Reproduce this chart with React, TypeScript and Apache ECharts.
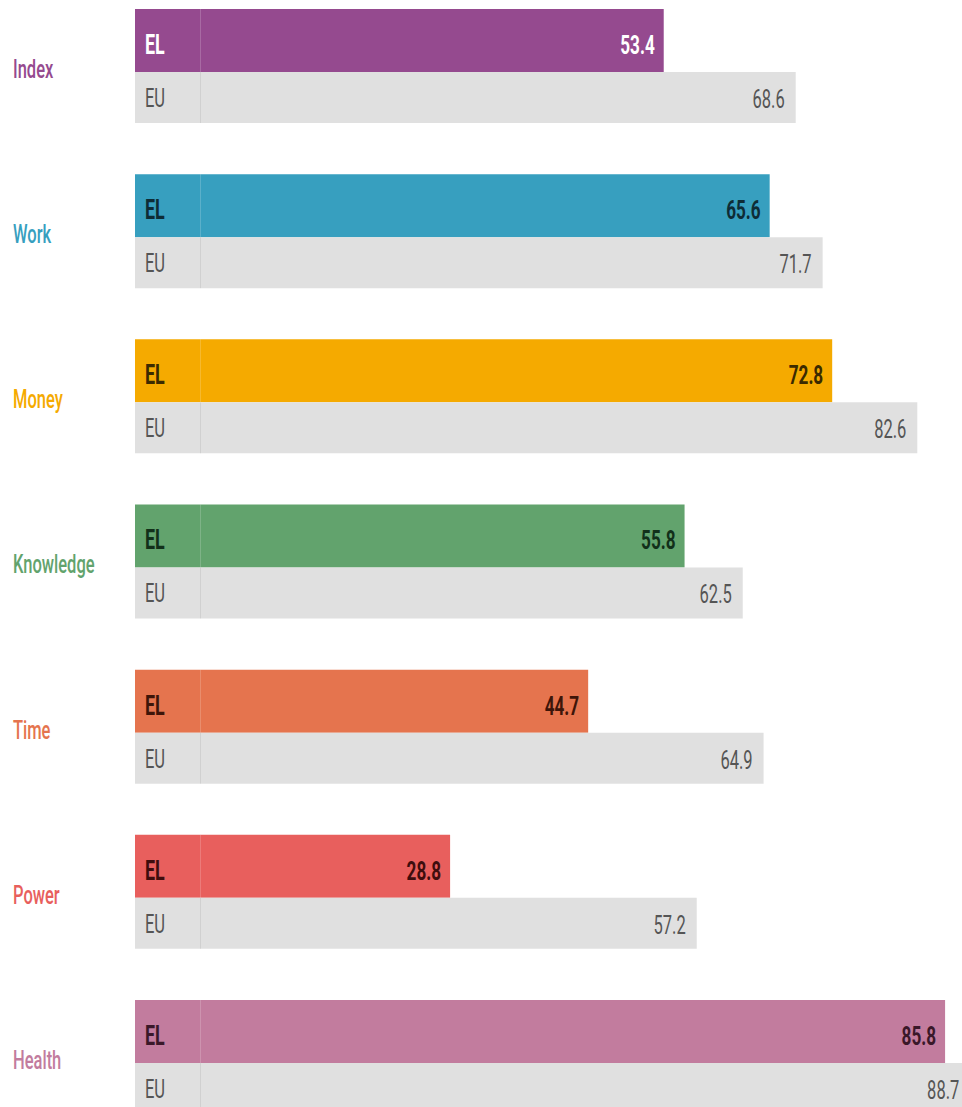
import React, { useEffect, useRef } from "react";
import * as echarts from "echarts";

const categories = ["Index", "Work", "Money", "Knowledge", "Time", "Power", "Health"];
const elValues = [53.4, 65.6, 72.8, 55.8, 44.7, 28.8, 85.8];
const euValues = [68.6, 71.7, 82.6, 62.5, 64.9, 57.2, 88.7];
const groupLabels = ["EL", "EU"];
const barColors = ["#954A8F", "#379FBF", "#F5AA00", "#62A36D", "#E5744E", "#E85F5D", "#C27C9E"];
const elTextColors = ["#FFFFFF", "#0E2C36", "#3B2A00", "#12301A", "#3E1509", "#3F0D0D", "#3A1829"];
const EU_COLOR = "#E0E0E0";
const EU_TEXT = "#555555";

const FONT = "Roboto, 'Noto Sans', sans-serif";
const SX = 0.66;
const CELL = 65;
const EL_H = 63;
const EU_H = 51;

export default function App() {
  const ref = useRef<HTMLDivElement>(null);

  useEffect(() => {
    if (!ref.current) return;
    const chart = echarts.init(ref.current, null, { renderer: "svg" });

    const text = (
      str: string,
      x: number,
      y: number,
      align: string,
      fill: string,
      size: number,
      weight: string | number
    ) => ({
      type: "text",
      x,
      y,
      scaleX: SX,
      style: {
        text: str,
        fill,
        fontFamily: FONT,
        fontSize: size,
        fontWeight: weight,
        align,
        verticalAlign: "middle",
      },
    });

    const option: any = {
      animation: false,
      backgroundColor: "#ffffff",
      grid: { left: 200, top: 9.42, width: 868.4, height: 1156.2 },
      xAxis: { type: "value", min: 0, max: 100, show: false },
      yAxis: { type: "category", data: categories, inverse: true, show: false },
      series: [
        {
          name: groupLabels[0],
          type: "custom",
          encode: { x: 0, y: 1 },
          data: elValues.map((v, i) => [v, i]),
          renderItem: (params: any, api: any) => {
            const idx = api.value(1);
            const v = api.value(0);
            const s = api.coord([0, idx]);
            const e = api.coord([v, idx]);
            const cy = s[1];
            const x0 = s[0];
            const top = cy - EL_H;
            const color = barColors[idx];
            return {
              type: "group",
              children: [
                {
                  type: "rect",
                  shape: { x: x0 - CELL, y: top, width: e[0] - x0 + CELL, height: EL_H },
                  style: { fill: color },
                },
                {
                  type: "line",
                  shape: { x1: x0 + 0.5, y1: top, x2: x0 + 0.5, y2: cy },
                  style: { stroke: "rgba(255,255,255,0.18)", lineWidth: 1 },
                },
                text(groupLabels[0], x0 - CELL + 10, cy - 27, "left", elTextColors[idx], 27, "bold"),
                text(v.toFixed(1), e[0] - 9, cy - 27, "right", elTextColors[idx], 26, "bold"),
                text(categories[idx], x0 - 187, cy - 3, "left", color, 25, 500),
              ],
            };
          },
        },
        {
          name: groupLabels[1],
          type: "custom",
          encode: { x: 0, y: 1 },
          data: euValues.map((v, i) => [v, i]),
          renderItem: (params: any, api: any) => {
            const idx = api.value(1);
            const v = api.value(0);
            const s = api.coord([0, idx]);
            const e = api.coord([v, idx]);
            const cy = s[1];
            const x0 = s[0];
            return {
              type: "group",
              children: [
                {
                  type: "rect",
                  shape: { x: x0 - CELL, y: cy, width: e[0] - x0 + CELL, height: EU_H },
                  style: { fill: EU_COLOR },
                },
                {
                  type: "line",
                  shape: { x1: x0 + 0.5, y1: cy, x2: x0 + 0.5, y2: cy + EU_H },
                  style: { stroke: "rgba(0,0,0,0.07)", lineWidth: 1 },
                },
                text(groupLabels[1], x0 - CELL + 10, cy + 26, "left", EU_TEXT, 25, "normal"),
                text(v.toFixed(1), e[0] - 11, cy + 27, "right", EU_TEXT, 25, "normal"),
              ],
            };
          },
        },
      ],
    };

    chart.setOption(option);
    return () => chart.dispose();
  }, []);

  return (
    <div
      style={{
        position: "fixed",
        left: 0,
        top: 0,
        width: 962,
        height: 1107,
        overflow: "hidden",
        background: "#ffffff",
      }}
    >
      <div
        ref={ref}
        style={{ position: "absolute", left: 0, top: -20, width: 1069, height: 1190 }}
      />
    </div>
  );
}
